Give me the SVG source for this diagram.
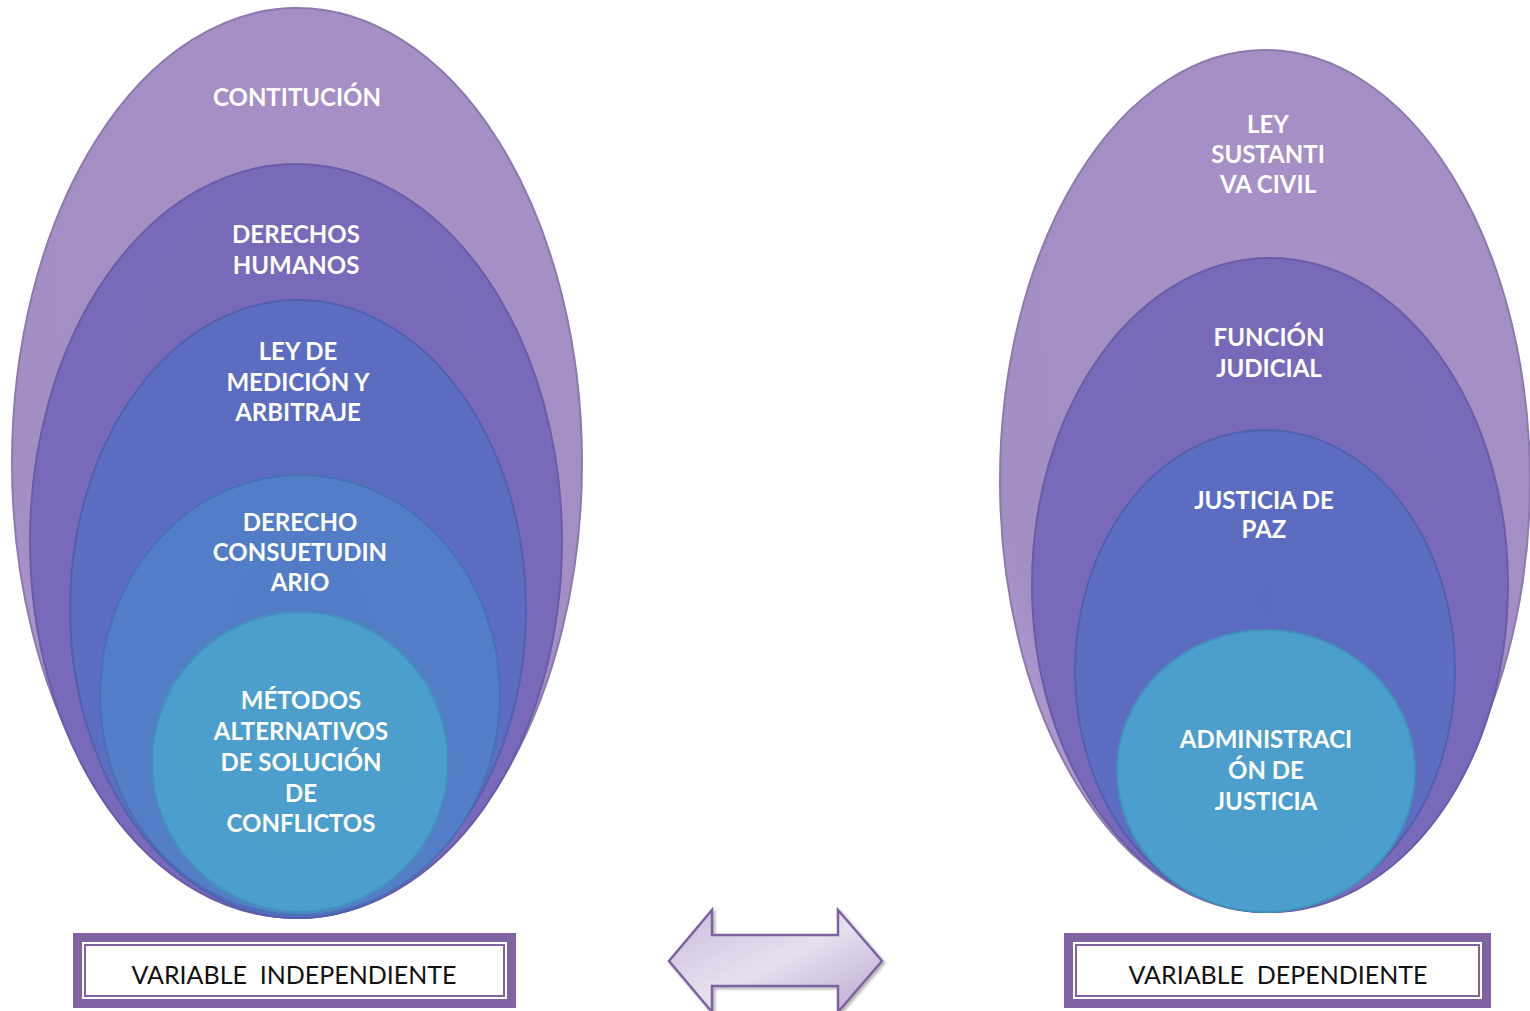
<svg xmlns="http://www.w3.org/2000/svg" width="1530" height="1011" viewBox="0 0 1530 1011">
<style>
.lbl{font-family:Lato,"Open Sans","Liberation Sans",sans-serif;font-weight:700;font-size:24px;fill:#ffffff;text-anchor:middle}
.box-lbl{font-family:Lato,"Liberation Sans",sans-serif;font-size:25px;fill:#111111;text-anchor:middle;white-space:pre}
.ell{stroke-width:2}
.outer-box{fill:#ffffff;stroke:#8064A2;stroke-width:9}
.inner-box{fill:none;stroke:#8064A2;stroke-width:2}
</style>
<defs>
<radialGradient id="g1" cx="0.6" cy="0.3" r="0.75">
<stop offset="0" stop-color="#A690C6"/><stop offset="0.85" stop-color="#A38EC4"/><stop offset="1" stop-color="#B3A0D8"/>
</radialGradient>
<radialGradient id="g2" cx="0.5" cy="0.35" r="0.75">
<stop offset="0" stop-color="#786AB8"/><stop offset="0.85" stop-color="#7869BA"/><stop offset="1" stop-color="#8778D0"/>
</radialGradient>
<radialGradient id="g3" cx="0.5" cy="0.35" r="0.75">
<stop offset="0" stop-color="#5B6CC0"/><stop offset="0.85" stop-color="#5D6DC2"/><stop offset="1" stop-color="#6A7AD6"/>
</radialGradient>
<radialGradient id="g4" cx="0.5" cy="0.35" r="0.75">
<stop offset="0" stop-color="#527CC6"/><stop offset="0.85" stop-color="#547FC8"/><stop offset="1" stop-color="#5F90DC"/>
</radialGradient>
<radialGradient id="g5" cx="0.5" cy="0.4" r="0.7">
<stop offset="0" stop-color="#4D9ECC"/><stop offset="0.85" stop-color="#4B9ECD"/><stop offset="1" stop-color="#5CB8E2"/>
</radialGradient>
<linearGradient id="ga" x1="0" y1="0" x2="1" y2="1">
<stop offset="0" stop-color="#C9BCDC"/><stop offset="0.5" stop-color="#E6E0EE"/><stop offset="1" stop-color="#B9A8D0"/>
</linearGradient>
<filter id="sh" x="-10%" y="-10%" width="130%" height="130%">
<feDropShadow dx="2" dy="2" stdDeviation="1.5" flood-color="#000" flood-opacity="0.3"/>
</filter>
</defs>

<g id="node-contitucion">
<ellipse class="ell" cx="297" cy="463" rx="285" ry="455" fill="url(#g1)" stroke="#8C7AAE"/>
<text class="lbl" x="297" y="106">CONTITUCIÓN</text>
</g>
<g id="node-derechos-humanos">
<ellipse class="ell" cx="296" cy="541" rx="266" ry="377" fill="url(#g2)" stroke="#6A5CA6"/>
<text class="lbl" x="296" y="243">DERECHOS</text>
<text class="lbl" x="296" y="274">HUMANOS</text>
</g>
<g id="node-ley-medicion">
<ellipse class="ell" cx="298" cy="609" rx="228" ry="309" fill="url(#g3)" stroke="#5060AE"/>
<text class="lbl" x="298" y="360">LEY DE</text>
<text class="lbl" x="298" y="391">MEDICIÓN Y</text>
<text class="lbl" x="298" y="421">ARBITRAJE</text>
</g>
<g id="node-derecho-consuetudinario">
<ellipse class="ell" cx="300" cy="695" rx="200" ry="220" fill="url(#g4)" stroke="#4870B4"/>
<text class="lbl" x="300" y="531">DERECHO</text>
<text class="lbl" x="300" y="561">CONSUETUDIN</text>
<text class="lbl" x="300" y="591">ARIO</text>
</g>
<g id="node-metodos">
<ellipse class="ell" cx="300" cy="762" rx="148" ry="150" fill="url(#g5)" stroke="#4490BC"/>
<text class="lbl" x="301" y="709">MÉTODOS</text>
<text class="lbl" x="301" y="740">ALTERNATIVOS</text>
<text class="lbl" x="301" y="771">DE SOLUCIÓN</text>
<text class="lbl" x="301" y="802">DE</text>
<text class="lbl" x="301" y="832">CONFLICTOS</text>
</g>

<g id="node-ley-sustantiva">
<ellipse class="ell" cx="1265" cy="481" rx="265" ry="431" fill="url(#g1)" stroke="#8C7AAE"/>
<text class="lbl" x="1268" y="133">LEY</text>
<text class="lbl" x="1268" y="163">SUSTANTI</text>
<text class="lbl" x="1268" y="193">VA CIVIL</text>
</g>
<g id="node-funcion-judicial">
<ellipse class="ell" cx="1270" cy="585" rx="238" ry="327" fill="url(#g2)" stroke="#6A5CA6"/>
<text class="lbl" x="1269" y="346">FUNCIÓN</text>
<text class="lbl" x="1269" y="377">JUDICIAL</text>
</g>
<g id="node-justicia-paz">
<ellipse class="ell" cx="1265" cy="671" rx="190" ry="241" fill="url(#g3)" stroke="#5060AE"/>
<text class="lbl" x="1264" y="509">JUSTICIA DE</text>
<text class="lbl" x="1264" y="538">PAZ</text>
</g>
<g id="node-administracion">
<ellipse class="ell" cx="1266" cy="771" rx="149" ry="141" fill="url(#g5)" stroke="#4490BC"/>
<text class="lbl" x="1266" y="748">ADMINISTRACI</text>
<text class="lbl" x="1266" y="779">ÓN DE</text>
<text class="lbl" x="1266" y="810">JUSTICIA</text>
</g>

<g id="node-variable-independiente">
<rect class="outer-box" x="77.5" y="937.5" width="434" height="66"/>
<rect class="inner-box" x="85" y="945" width="419" height="51"/>
<text class="box-lbl" x="294" y="984">VARIABLE  INDEPENDIENTE</text>
</g>
<g id="node-variable-dependiente">
<rect class="outer-box" x="1068.5" y="937.5" width="418" height="66"/>
<rect class="inner-box" x="1076" y="945" width="403" height="51"/>
<text class="box-lbl" x="1278" y="984">VARIABLE  DEPENDIENTE</text>
</g>

<g id="connectors">
<path d="M669,961 L712,910 L712,935 L838,935 L838,910 L882,961 L838,1012 L838,986 L712,986 L712,1012 Z" fill="url(#ga)" stroke="#7E62A0" stroke-width="2.5" stroke-linejoin="miter" filter="url(#sh)"/>
</g>
</svg>
